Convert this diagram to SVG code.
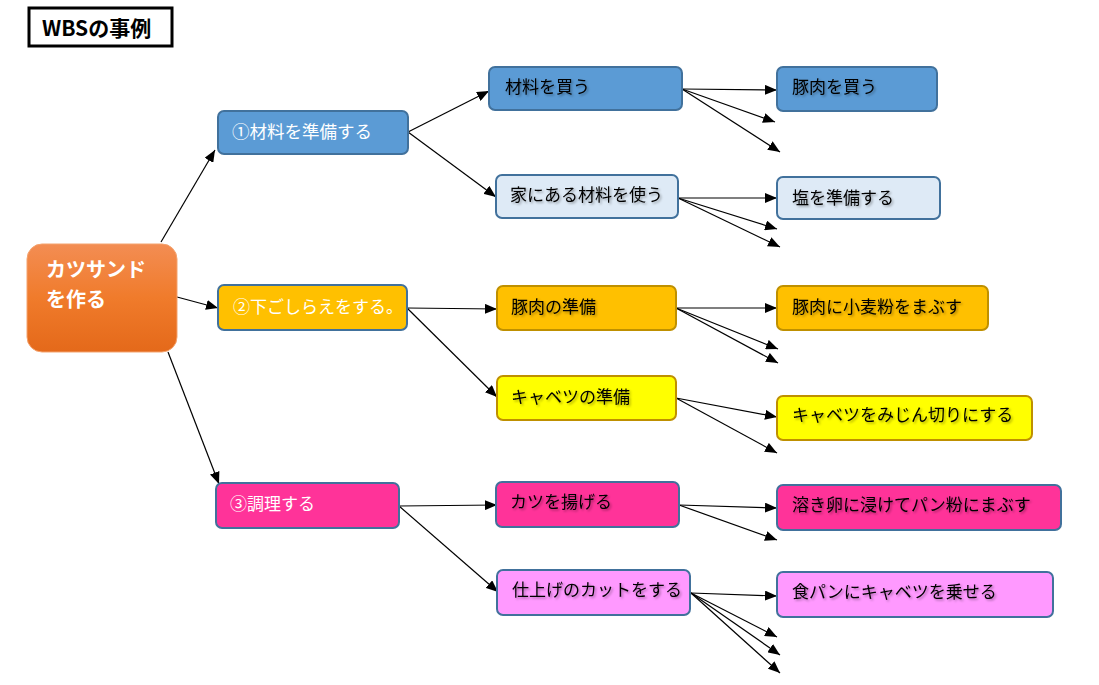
<svg xmlns="http://www.w3.org/2000/svg" width="1099" height="685" viewBox="0 0 1099 685">
<style>
text{font-family:"Noto Sans CJK JP","Liberation Sans",sans-serif;}
.n{stroke-width:2;}
.b{stroke:#41719C;}
.g{stroke:#BF9000;}
.t1{font-size:17px;fill:#fff;}
.t2{font-size:17px;fill:#000;filter:url(#sh);}
.c line{stroke:#000;stroke-width:1.2;marker-end:url(#ah);}
</style>
<defs>
<linearGradient id="og" x1="0" y1="0" x2="0" y2="1">
<stop offset="0" stop-color="#F38D53"/>
<stop offset="0.5" stop-color="#F07B2B"/>
<stop offset="1" stop-color="#E4691A"/>
</linearGradient>
<marker id="ah" viewBox="0 0 12 10" refX="12" refY="5" markerWidth="12" markerHeight="10" markerUnits="userSpaceOnUse" orient="auto">
<path d="M0,0 L12,5 L0,10 Z" fill="#000"/>
</marker>
<filter id="sh" x="-10%" y="-30%" width="130%" height="170%">
<feDropShadow dx="1.5" dy="1.5" stdDeviation="0.8" flood-color="#000" flood-opacity="0.35"/>
</filter>
</defs>
<rect width="1099" height="685" fill="#fff"/>
<g id="title">
<rect x="29" y="8" width="143" height="38" fill="#fff" stroke="#000" stroke-width="3"/>
<text x="42" y="36" style="font-size:21px;font-weight:bold;">WBSの事例</text>
</g>
<g class="c" id="connectors">
<line x1="161" y1="242" x2="215" y2="150"/>
<line x1="177" y1="297" x2="218" y2="308"/>
<line x1="168" y1="352" x2="219" y2="484"/>
<line x1="408" y1="132" x2="489" y2="91"/>
<line x1="408" y1="132" x2="496" y2="197"/>
<line x1="407" y1="308" x2="497" y2="309"/>
<line x1="407" y1="308" x2="497" y2="397"/>
<line x1="399" y1="506" x2="497" y2="505"/>
<line x1="399" y1="506" x2="498" y2="592"/>
<line x1="682" y1="89" x2="777" y2="90"/>
<line x1="682" y1="89" x2="775" y2="122"/>
<line x1="682" y1="89" x2="780" y2="152"/>
<line x1="678" y1="198" x2="777" y2="198"/>
<line x1="678" y1="198" x2="777" y2="229"/>
<line x1="678" y1="198" x2="780" y2="247"/>
<line x1="676" y1="308" x2="777" y2="308"/>
<line x1="676" y1="308" x2="778" y2="349"/>
<line x1="676" y1="308" x2="778" y2="363"/>
<line x1="676" y1="398" x2="777" y2="417"/>
<line x1="676" y1="398" x2="777" y2="453"/>
<line x1="679" y1="505" x2="777" y2="508"/>
<line x1="679" y1="505" x2="777" y2="540"/>
<line x1="691" y1="593" x2="777" y2="596"/>
<line x1="691" y1="593" x2="777" y2="637"/>
<line x1="691" y1="593" x2="780" y2="655"/>
<line x1="691" y1="593" x2="780" y2="673"/>
</g>
<g id="root">
<rect x="27" y="244" width="150" height="108" rx="15" fill="url(#og)" stroke="#F4A36E" stroke-width="1"/>
<text x="46" y="277" style="font-size:20px;font-weight:bold;fill:#fff;">カツサンド</text>
<text x="46" y="307" style="font-size:20px;font-weight:bold;fill:#fff;">を作る</text>
</g>
<g id="n1">
<rect class="n b" x="218" y="111" width="190" height="43" rx="6" fill="#5B9BD5"/>
<text class="t1" x="232" y="138" style="font-size:17.5px">①材料を準備する</text>
</g>
<g id="n2">
<rect class="n b" x="218" y="285" width="189" height="45" rx="6" fill="#FFC000"/>
<text class="t1" x="233" y="313">②下ごしらえをする。</text>
</g>
<g id="n3">
<rect class="n b" x="216" y="483" width="183" height="45" rx="6" fill="#FF3399"/>
<text class="t1" x="230" y="510">③調理する</text>
</g>
<g id="n11">
<rect class="n b" x="489" y="67" width="193" height="43" rx="6" fill="#5B9BD5"/>
<text class="t2" x="505" y="93">材料を買う</text>
</g>
<g id="n12">
<rect class="n b" x="496" y="175" width="182" height="43" rx="6" fill="#DEEAF6"/>
<text class="t2" x="510" y="201">家にある材料を使う</text>
</g>
<g id="n21">
<rect class="n g" x="497" y="286" width="179" height="44" rx="6" fill="#FFC000"/>
<text class="t2" x="511" y="313">豚肉の準備</text>
</g>
<g id="n22">
<rect class="n g" x="497" y="376" width="179" height="44" rx="6" fill="#FFFF00"/>
<text class="t2" x="511" y="403">キャベツの準備</text>
</g>
<g id="n31">
<rect class="n b" x="496" y="482" width="183" height="45" rx="6" fill="#FF3399"/>
<text class="t2" x="510" y="508">カツを揚げる</text>
</g>
<g id="n32">
<rect class="n b" x="497" y="570" width="193" height="45" rx="6" fill="#FF99FF"/>
<text class="t2" x="512" y="596">仕上げのカットをする</text>
</g>
<g id="n111">
<rect class="n b" x="777" y="67" width="160" height="44" rx="6" fill="#5B9BD5"/>
<text class="t2" x="792" y="93">豚肉を買う</text>
</g>
<g id="n121">
<rect class="n b" x="777" y="177" width="163" height="42" rx="6" fill="#DEEAF6"/>
<text class="t2" x="792" y="204">塩を準備する</text>
</g>
<g id="n211">
<rect class="n g" x="777" y="286" width="211" height="44" rx="6" fill="#FFC000"/>
<text class="t2" x="792" y="313">豚肉に小麦粉をまぶす</text>
</g>
<g id="n221">
<rect class="n g" x="777" y="396" width="255" height="44" rx="6" fill="#FFFF00"/>
<text class="t2" x="792" y="421">キャベツをみじん切りにする</text>
</g>
<g id="n311">
<rect class="n b" x="777" y="485" width="284" height="45" rx="6" fill="#FF3399"/>
<text class="t2" x="792" y="511">溶き卵に浸けてパン粉にまぶす</text>
</g>
<g id="n321">
<rect class="n b" x="777" y="572" width="276" height="45" rx="6" fill="#FF99FF"/>
<text class="t2" x="792" y="598">食パンにキャベツを乗せる</text>
</g>
</svg>
